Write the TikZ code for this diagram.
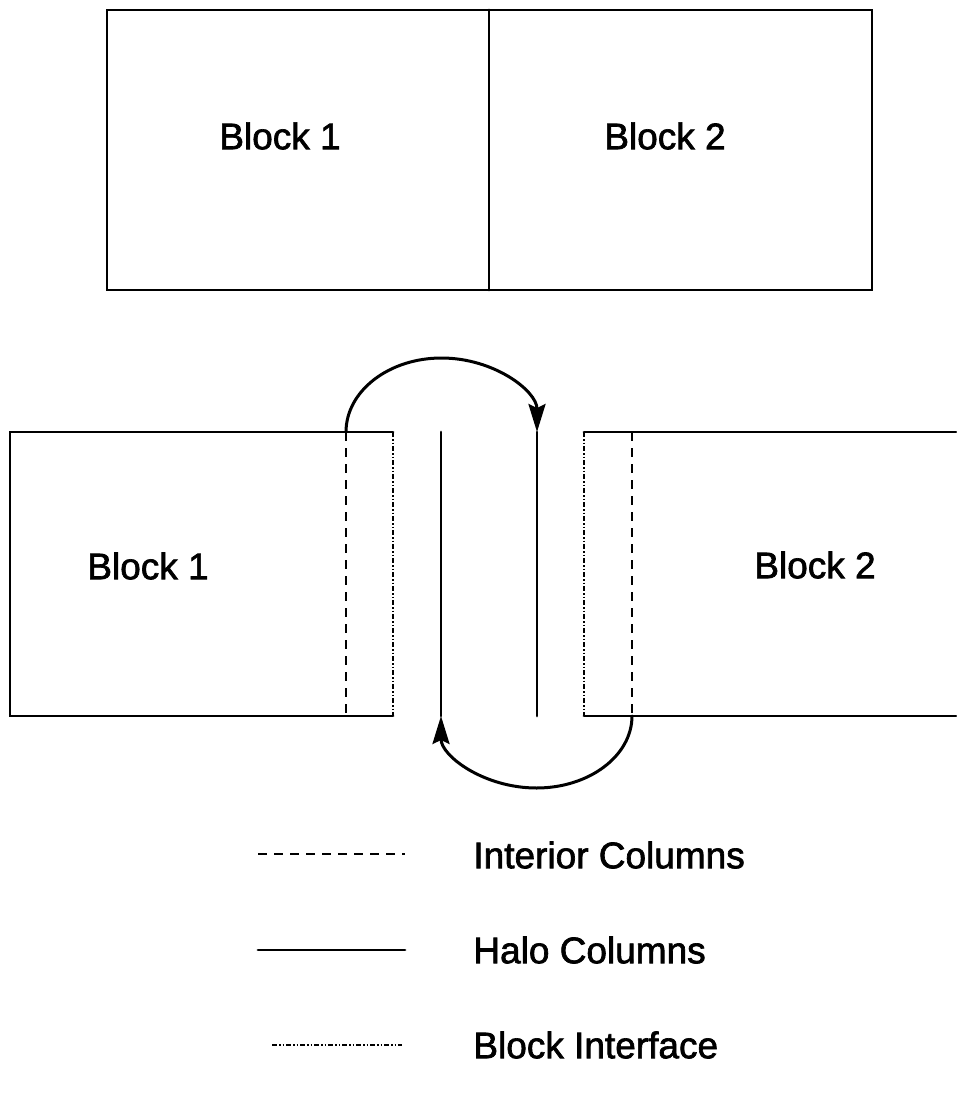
\documentclass[tikz,border=0pt]{standalone}
\usepackage{fontspec}
\setmainfont{Liberation Sans}
\newfontfamily\labelfont{Liberation Sans}[FakeBold=1.8]
\usetikzlibrary{arrows.meta}
\begin{document}
\begin{tikzpicture}[x=1pt,y=-1pt,line width=2.8pt,line cap=round,
  interior/.style={dash pattern=on 9pt off 7pt,line cap=butt},
  halo/.style={},
  iface/.style={dash pattern=on 5pt off 2pt on 1.5pt off 2pt on 1.5pt off 2pt,line cap=butt},
  lbl/.style={font=\labelfont\fontsize{37}{42}\selectfont,inner sep=0pt},
  lgd/.style={font=\labelfont\fontsize{37}{42}\selectfont,inner sep=0pt,anchor=west},
  xfer/.style={-{Stealth[length=28pt,width=17pt,inset=4pt]},line width=3pt}]
\useasboundingbox (0,0) rectangle (956,1110);

% ---- whole domain split into two blocks
\draw (107,10) rectangle (872,290);
\draw (489,10) -- (489,290);
\node[lbl] (top1) at (280,136) {Block 1};
\node[lbl] (top2) at (665,136) {Block 2};

% ---- separated blocks with their interior and interface columns
\coordinate (b1i) at (346,432);  % interior column of block 1, top
\coordinate (b1ib) at (346,716);
\coordinate (b1f) at (393,432);  % interface of block 1
\coordinate (b1fb) at (393,716);
\draw (393,432) -- (10,432) -- (10,716) -- (393,716);
\draw[iface] (b1f) -- (b1fb);
\draw[interior] (b1i) -- (b1ib);
\node[lbl] (low1) at (148,566) {Block 1};

\coordinate (b2f) at (584,432);  % interface of block 2
\coordinate (b2fb) at (584,716);
\coordinate (b2i) at (632,432);  % interior column of block 2
\coordinate (b2ib) at (632,716);
\draw (956,432) -- (584,432);
\draw (584,716) -- (956,716);
\draw[iface] (b2f) -- (b2fb);
\draw[interior] (b2i) -- (b2ib);
\node[lbl] (low2) at (815,565) {Block 2};

% ---- halo columns between the blocks
\coordinate (h1t) at (441,432);
\coordinate (h1b) at (441,716);
\coordinate (h2t) at (537,432);
\coordinate (h2b) at (537,716);
\draw[halo] (h1t) -- (h1b);
\draw[halo] (h2t) -- (h2b);

% ---- data exchange
\draw[xfer] (b1i) arc[start angle=180,end angle=0,x radius=95.5pt,y radius=74pt];
\draw[xfer] (b2ib) arc[start angle=0,end angle=-180,x radius=95.5pt,y radius=72pt];

% ---- legend
\coordinate (l1a) at (258,854); \coordinate (l1b) at (405,854);
\coordinate (l2a) at (258,950); \coordinate (l2b) at (405,950);
\coordinate (l3a) at (272,1045); \coordinate (l3b) at (402,1045);
\draw[interior] (l1a) -- (l1b);
\draw[halo] (l2a) -- (l2b);
\draw[iface] (l3a) -- (l3b);
\node[lgd] (t1) at (472,855) {Interior Columns};
\node[lgd] (t2) at (472,950) {Halo Columns};
\node[lgd] (t3) at (472,1045) {Block Interface};
\end{tikzpicture}
\end{document}
